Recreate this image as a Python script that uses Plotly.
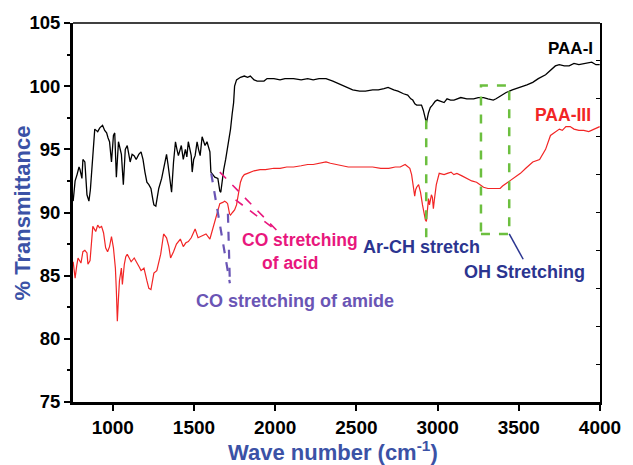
import plotly.graph_objects as go

# ---------------- data ----------------
paa1_x = [756, 768, 780, 792, 798, 810, 816, 828, 841, 853, 862, 871, 880, 889, 898, 907, 920, 937, 950, 962,
          971, 980, 992, 1004, 1012, 1022, 1035, 1044, 1053, 1065, 1077, 1089, 1098, 1107, 1119, 1131, 1144, 1160,
          1174, 1186, 1198, 1210, 1222, 1235, 1247, 1253, 1265, 1274, 1283, 1301, 1319, 1331, 1340, 1350, 1362,
          1374, 1386, 1395, 1404, 1422, 1434, 1447, 1456, 1465, 1477, 1483, 1489, 1498, 1507, 1519, 1528, 1538,
          1550, 1568, 1580, 1590, 1598, 1604, 1616, 1628, 1647, 1659, 1665, 1671, 1683, 1695, 1713, 1725, 1735,
          1744, 1750, 1762, 1786, 1810, 1830, 1847, 1870, 1889, 1910, 1931, 1950, 1992, 2030, 2060, 2113, 2160,
          2200, 2234, 2270, 2313, 2355, 2390, 2416, 2450, 2477, 2520, 2556, 2600, 2635, 2670, 2695, 2730, 2756,
          2790, 2816, 2835, 2847, 2860, 2871, 2890, 2901, 2912, 2919, 2925, 2931, 2944, 2955, 2968, 2985, 2998,
          3020, 3040, 3058, 3080, 3101, 3120, 3143, 3180, 3222, 3250, 3283, 3310, 3343, 3360, 3374, 3400, 3422,
          3460, 3507, 3550, 3586, 3620, 3665, 3700, 3725, 3749, 3780, 3810, 3840, 3870, 3910, 3949, 3975, 3998]
paa1_y = [90.9, 92.5, 93.0, 93.6, 93.4, 92.7, 94.2, 94.0, 91.4, 90.9, 91.8, 93.2, 95.2, 96.6, 96.5, 96.4, 96.7,
          96.9, 96.5, 96.3, 95.9, 95.6, 94.0, 96.1, 96.3, 92.8, 95.6, 95.2, 94.6, 92.2, 95.0, 95.3, 94.6, 94.0,
          94.6, 94.5, 94.2, 94.6, 94.8, 94.2, 93.2, 92.4, 92.2, 91.9, 91.0, 90.6, 90.5, 91.2, 91.9, 92.7, 93.8,
          94.6, 93.8, 92.7, 91.6, 94.0, 95.6, 95.0, 94.5, 95.3, 94.2, 95.0, 94.4, 95.6, 95.0, 94.5, 93.2, 94.2,
          94.5, 95.6, 95.0, 94.5, 96.0, 95.3, 95.6, 95.2, 94.8, 93.2, 93.0, 92.8, 92.7, 91.7, 91.6, 92.4, 93.4,
          94.2, 95.6, 96.6, 97.8, 98.7, 100.0, 100.5, 100.7, 100.8, 100.7, 100.8, 100.5, 100.4, 100.4, 100.4,
          100.6, 100.6, 100.5, 100.6, 100.6, 100.5, 100.6, 100.5, 100.6, 100.6, 100.4, 100.2, 100.0, 99.8, 99.7,
          99.6, 99.6, 99.7, 99.7, 99.8, 99.9, 99.7, 99.6, 99.4, 99.3, 99.0, 98.9, 98.6, 98.5, 98.5, 98.5, 98.1,
          97.8, 97.4, 97.1, 97.9, 98.3, 98.5, 98.8, 98.9, 98.8, 98.7, 99.0, 98.9, 98.9, 99.0, 99.1, 99.0, 99.0,
          99.1, 99.1, 99.0, 98.9, 99.0, 99.1, 99.3, 99.5, 99.7, 99.9, 100.1, 100.3, 100.6, 100.9, 101.3, 101.6,
          101.7, 101.6, 101.6, 101.8, 101.7, 101.8, 101.9, 101.7, 101.7]

paa3_x = [756, 768, 778, 786, 795, 804, 816, 828, 841, 847, 860, 871, 877, 886, 895, 907, 918, 931, 943, 956,
          968, 980, 992, 1004, 1016, 1022, 1028, 1034, 1041, 1053, 1059, 1071, 1080, 1089, 1100, 1113, 1132, 1150,
          1162, 1174, 1192, 1210, 1222, 1235, 1253, 1271, 1283, 1295, 1313, 1331, 1345, 1356, 1374, 1392, 1416,
          1434, 1450, 1465, 1483, 1507, 1525, 1544, 1574, 1598, 1616, 1635, 1650, 1659, 1677, 1689, 1700, 1707,
          1719, 1725, 1737, 1750, 1762, 1774, 1786, 1798, 1810, 1830, 1847, 1870, 1907, 1940, 1992, 2030, 2071,
          2113, 2160, 2200, 2234, 2270, 2313, 2340, 2380, 2416, 2450, 2500, 2556, 2600, 2650, 2700, 2739, 2770,
          2800, 2829, 2840, 2847, 2853, 2859, 2865, 2871, 2883, 2895, 2907, 2918, 2925, 2931, 2938, 2944, 2950,
          2956, 2962, 2968, 2974, 2980, 2992, 3010, 3040, 3060, 3083, 3100, 3119, 3150, 3180, 3210, 3240, 3260,
          3283, 3310, 3343, 3370, 3385, 3400, 3422, 3450, 3483, 3510, 3543, 3586, 3628, 3665, 3695, 3725, 3750,
          3768, 3790, 3816, 3840, 3870, 3900, 3931, 3960, 3998]
paa3_y = [86.1, 84.8, 85.8, 86.4, 86.2, 86.0, 86.9, 87.0, 86.8, 85.9, 86.2, 88.3, 88.9, 88.7, 88.5, 89.0, 88.8,
          88.9, 88.4, 87.2, 86.9, 87.3, 88.1, 87.2, 85.6, 83.8, 81.4, 83.0, 84.6, 85.6, 84.3, 85.9, 86.5, 86.7,
          86.4, 86.1, 86.4, 85.9, 85.7, 85.4, 85.6, 84.6, 84.0, 83.9, 85.2, 85.4, 86.0, 86.7, 88.3, 88.0, 87.3,
          86.4, 86.9, 87.5, 87.9, 87.3, 87.6, 87.7, 88.0, 88.7, 88.0, 88.1, 88.3, 87.9, 88.7, 89.5, 90.3, 90.7,
          90.8, 90.9, 90.8, 90.7, 89.9, 89.8, 90.0, 90.2, 90.6, 91.6, 92.4, 92.8, 93.0, 93.1, 93.2, 93.3, 93.4,
          93.4, 93.5, 93.5, 93.6, 93.6, 93.7, 93.8, 93.8, 93.9, 94.0, 93.9, 93.8, 93.7, 93.6, 93.6, 93.6, 93.6,
          93.5, 93.5, 93.6, 93.6, 93.8, 93.5, 93.0, 92.4, 91.8, 91.3, 91.8, 92.0, 92.2, 91.6, 90.6, 89.8, 89.4,
          89.3, 90.3, 91.1, 90.6, 90.9, 91.4, 91.2, 90.3, 91.0, 92.2, 93.1, 93.0, 93.1, 93.2, 93.0, 93.1, 92.9,
          92.7, 92.5, 92.4, 92.2, 92.0, 91.9, 91.9, 91.9, 91.9, 92.1, 92.3, 92.5, 92.8, 93.1, 93.5, 94.0, 94.2,
          95.0, 96.1, 96.4, 96.6, 96.5, 96.8, 96.8, 96.6, 96.5, 96.5, 96.4, 96.6, 96.8]

x_ticks = [1000, 1500, 2000, 2500, 3000, 3500, 4000]
y_ticks = [75, 80, 85, 90, 95, 100, 105]

FONT = "Liberation Sans, Arial, sans-serif"
GREEN = "#6cbf3f"
PURPLE = "#6a55b5"
MAGENTA = "#e8177d"
NAVY = "#2b3590"
TITLE_BLUE = "#3b52a6"

fig = go.Figure()
fig.add_trace(go.Scatter(x=paa1_x, y=paa1_y, mode="lines", line=dict(color="black", width=1.3),
                         showlegend=False, hoverinfo="skip"))
fig.add_trace(go.Scatter(x=paa3_x, y=paa3_y, mode="lines", line=dict(color="#f22525", width=1.2),
                         showlegend=False, hoverinfo="skip"))
# invisible trace for the right-hand tick axis
fig.add_trace(go.Scatter(x=[paa1_x[0]], y=[paa1_y[0]], yaxis="y2", mode="markers",
                         marker=dict(opacity=0), showlegend=False, hoverinfo="skip"))

shapes = []
def seg(x0, y0, x1, y1, color, width, dash):
    shapes.append(dict(type="line", xref="x", yref="y", x0=x0, y0=y0, x1=x1, y1=y1,
                       line=dict(color=color, width=width, dash=dash)))

# Ar-CH stretch guide
seg(2930, 97.3, 2930, 87.9, GREEN, 2.5, "dash")
# OH stretching box
shapes.append(dict(type="rect", xref="x", yref="y", x0=3267, x1=3441, y0=88.3, y1=100.05,
                   line=dict(color=GREEN, width=2.5, dash="dash")))
seg(3441, 88.3, 3527, 86.3, NAVY, 1.5, "solid")
# CO stretching of amide
seg(1606, 93.1, 1721, 84.4, PURPLE, 2.2, "dash")
seg(1709, 89.9, 1721, 84.4, PURPLE, 2.2, "dash")
# CO stretching of acid
seg(1659, 93.2, 2016, 88.5, MAGENTA, 1.6, "dash")
seg(1756, 91.0, 2016, 88.5, MAGENTA, 1.6, "dash")

# frame: thin top line
shapes.append(dict(type="line", xref="paper", yref="paper", x0=0, x1=1, y0=1, y1=1,
                   line=dict(color="black", width=1.5)))

def ann(text, x, y, color, size):
    return dict(text=f"<b>{text}</b>", x=x, y=y, xref="x", yref="y", showarrow=False,
                font=dict(family=FONT, size=size, color=color), xanchor="center", yanchor="middle")

annotations = [
    ann("PAA-I", 3816, 103.0, "black", 17),
    ann("PAA-III", 3774, 97.7, "#f22525", 17.5),
    ann("CO stretching", 2150, 87.85, MAGENTA, 17.5),
    ann("of acid", 2089, 86.0, MAGENTA, 17.5),
    ann("CO stretching of amide", 2125, 83.0, PURPLE, 18),
    ann("Ar-CH stretch", 2901, 87.25, NAVY, 18),
    ann("OH Stretching", 3536, 85.3, NAVY, 18),
    dict(text="<b>% Transmittance</b>", x=-0.095, y=0.5, xref="paper", yref="paper", textangle=-90,
         showarrow=False, font=dict(family=FONT, size=22, color=TITLE_BLUE), xanchor="center", yanchor="middle"),
    dict(text="<b>Wave number (cm<sup>-1</sup>)</b>", x=0.4925, y=-0.13, xref="paper", yref="paper",
         showarrow=False, font=dict(family=FONT, size=22, color=TITLE_BLUE), xanchor="center", yanchor="middle"),
]

fig.update_layout(
    width=633, height=465,
    margin=dict(l=73, r=25, t=20, b=63, pad=0),
    paper_bgcolor="white", plot_bgcolor="white",
    shapes=shapes, annotations=annotations,
    xaxis=dict(range=[755, 4000], tickvals=x_ticks, ticktext=[str(v) for v in x_ticks],
               ticks="outside", ticklen=6, tickwidth=2, tickcolor="black",
               showline=True, linewidth=3, linecolor="black", showgrid=False, zeroline=False,
               tickfont=dict(family=FONT, size=19, color="black", weight="bold")),
    yaxis=dict(range=[75, 105], tickvals=y_ticks, ticktext=[str(v) for v in y_ticks],
               ticks="outside", ticklen=6, tickwidth=2, tickcolor="black",
               minor=dict(dtick=2.5, tick0=75, ticks="outside", ticklen=3, tickwidth=1.5, tickcolor="black"),
               showline=True, linewidth=3, linecolor="black", showgrid=False, zeroline=False,
               tickfont=dict(family=FONT, size=18.5, color="black", weight="bold")),
    yaxis2=dict(range=[75, 105], overlaying="y", side="right", tick0=75, dtick=3, ticks="inside",
                ticklen=4, tickwidth=1, tickcolor="black", showticklabels=False,
                showline=True, linewidth=1.5, linecolor="black", showgrid=False, zeroline=False),
)

fig.write_html("out.html")
